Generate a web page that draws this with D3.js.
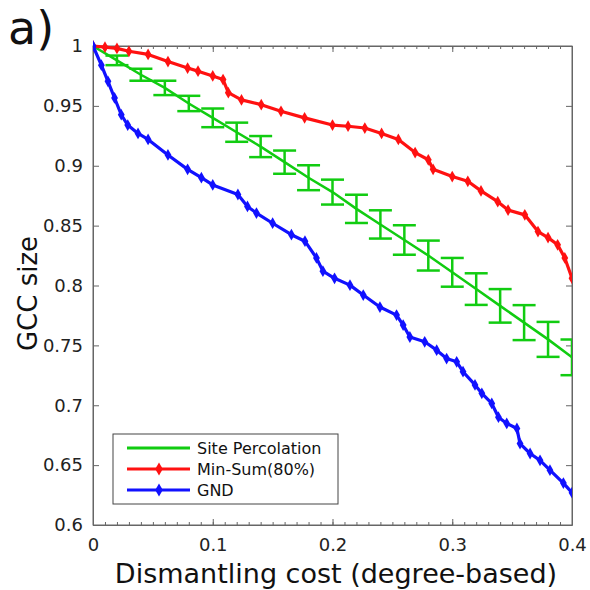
<!DOCTYPE html>
<html>
<head>
<meta charset="utf-8">
<script src="https://cdn.jsdelivr.net/npm/d3@7"></script>
<style>
  body { margin: 0; background: #fff; }
  svg { font-family: "DejaVu Sans", sans-serif; }
</style>
</head>
<body>
<svg width="590" height="590"></svg>
<script>
// Site percolation (mean + error bars)
const siteX = [0, 0.02, 0.04, 0.06, 0.08, 0.10, 0.12, 0.14, 0.16, 0.18, 0.20,
  0.22, 0.24, 0.26, 0.28, 0.30, 0.32, 0.34, 0.36, 0.38, 0.40];
const siteY = [1, 0.988, 0.976, 0.965, 0.952, 0.940, 0.928, 0.916, 0.903, 0.890, 0.878,
  0.864, 0.851, 0.838, 0.825, 0.811, 0.797, 0.783, 0.769, 0.755, 0.740];
const siteErr = [0, 0.004, 0.005, 0.006, 0.0064, 0.0078, 0.008, 0.0088, 0.0097, 0.0104, 0.0104,
  0.0118, 0.0118, 0.0123, 0.0125, 0.012, 0.0132, 0.014, 0.0146, 0.0146, 0.0149];

// Min-Sum(80%)
const minSumX = [0, 0.01, 0.02, 0.03, 0.046, 0.0626, 0.079, 0.0877, 0.1, 0.1086, 0.113, 0.124,
  0.1405, 0.157, 0.1767, 0.2, 0.213, 0.227, 0.241, 0.255, 0.269, 0.28, 0.284, 0.3, 0.313,
  0.324, 0.338, 0.3466, 0.3606, 0.3716, 0.38, 0.388, 0.394, 0.4];
const minSumY = [1, 0.999, 0.998, 0.9956, 0.993, 0.987, 0.9816, 0.979, 0.975, 0.972, 0.961, 0.955,
  0.951, 0.9455, 0.940, 0.934, 0.933, 0.9315, 0.927, 0.922, 0.911, 0.905, 0.897, 0.891, 0.887,
  0.879, 0.870, 0.863, 0.859, 0.845, 0.840, 0.834, 0.823, 0.806];

// GND
const gndX = [0, 0.007, 0.0125, 0.018, 0.0236, 0.029, 0.0376, 0.046, 0.0626, 0.079, 0.0905, 0.1,
  0.121, 0.129, 0.1365, 0.150, 0.1657, 0.177, 0.1866, 0.192, 0.2017, 0.2146, 0.2257, 0.2396,
  0.2535, 0.259, 0.2646, 0.277, 0.287, 0.2953, 0.3037, 0.309, 0.319, 0.3247, 0.333, 0.3386,
  0.3455, 0.354, 0.3566, 0.365, 0.3733, 0.3816, 0.3928, 0.4];
const gndY = [1, 0.984, 0.9705, 0.9566, 0.9426, 0.934, 0.927, 0.922, 0.909, 0.897, 0.890, 0.884,
  0.876, 0.866, 0.8605, 0.852, 0.8424, 0.837, 0.823, 0.812, 0.806, 0.8003, 0.792, 0.782,
  0.7753, 0.767, 0.757, 0.753, 0.746, 0.739, 0.7363, 0.728, 0.717, 0.710, 0.7015, 0.690,
  0.6848, 0.6806, 0.668, 0.6597, 0.654, 0.6458, 0.635, 0.627];

const xTicks = [0, 0.1, 0.2, 0.3, 0.4];
const yTicks = [0.6, 0.65, 0.7, 0.75, 0.8, 0.85, 0.9, 0.95, 1];
const legendNames = ["Site Percolation", "Min-Sum(80%)", "GND"];

const green = "#11cc11", red = "#ff1111", blue = "#1111ff";

const svg = d3.select("svg");
const pL = 93, pR = 572, pT = 46, pB = 525;

const x = d3.scaleLinear().domain([0, 0.4]).range([pL, pR]);
const y = d3.scaleLinear().domain([0.6, 1]).range([pB, pT]);

svg.append("clipPath").attr("id", "clip")
  .append("rect")
  .attr("x", pL).attr("y", pT - 8)
  .attr("width", pR - pL).attr("height", pB - pT + 8);

// axes
const minor = d3.range(0, 0.4001, 0.01);

svg.append("g")
  .attr("transform", `translate(0,${pB})`)
  .call(d3.axisBottom(x).tickValues(minor).tickSize(-3).tickFormat(""))
  .call(g => g.select(".domain").remove());
svg.append("g")
  .attr("transform", `translate(0,${pT})`)
  .call(d3.axisTop(x).tickValues(minor).tickSize(-3).tickFormat(""))
  .call(g => g.select(".domain").remove());

svg.append("g")
  .attr("transform", `translate(0,${pB})`)
  .call(d3.axisBottom(x).tickValues(xTicks).tickSize(-6).tickSizeOuter(0).tickPadding(13)
    .tickFormat(d => d === 0 ? "0" : d3.format(".1f")(d)));
svg.append("g")
  .attr("transform", `translate(0,${pT})`)
  .call(d3.axisTop(x).tickValues(xTicks).tickSize(-6).tickSizeOuter(0).tickFormat(""));

svg.append("g")
  .attr("transform", `translate(${pL},0)`)
  .call(d3.axisLeft(y).tickValues(yTicks).tickSize(-6).tickSizeOuter(0).tickPadding(10)
    .tickFormat(d => d === 1 ? "1" : String(+d.toFixed(2))));
svg.append("g")
  .attr("transform", `translate(${pR},0)`)
  .call(d3.axisRight(y).tickValues(yTicks).tickSize(-6).tickSizeOuter(0).tickFormat(""));

svg.selectAll(".tick line, .domain").attr("stroke", "#666");
svg.selectAll(".tick text").attr("font-size", 18).attr("fill", "#222")
  .attr("font-family", "DejaVu Sans");

svg.append("rect")
  .attr("x", pL).attr("y", pT)
  .attr("width", pR - pL).attr("height", pB - pT)
  .attr("fill", "none").attr("stroke", "#666");

// labels
svg.append("text").attr("x", 8).attr("y", 44)
  .attr("font-size", 46).attr("fill", "#111").text("a)");

svg.append("text")
  .attr("x", 336).attr("y", 583)
  .attr("text-anchor", "middle").attr("font-size", 27).attr("fill", "#111")
  .text("Dismantling cost (degree-based)");

svg.append("text")
  .attr("transform", `translate(37,${(pT + pB) / 2 + 8}) rotate(-90)`)
  .attr("text-anchor", "middle").attr("font-size", 26).attr("fill", "#111")
  .text("GCC size");

// series
const plot = svg.append("g").attr("clip-path", "url(#clip)");
const line = d3.line().x(d => x(d[0])).y(d => y(d[1]));
const diamond = d3.symbol().type(d3.symbolDiamond).size(40);

const site = siteX.map((v, i) => [v, siteY[i], siteErr[i]]);
plot.append("path").datum(site)
  .attr("fill", "none").attr("stroke", green).attr("stroke-width", 2.5)
  .attr("d", line);

const bars = plot.selectAll("g.bar").data(site.filter(d => d[2] > 0)).enter()
  .append("g").attr("class", "bar")
  .attr("stroke", green).attr("stroke-width", 2.5);
bars.append("line")
  .attr("x1", d => x(d[0])).attr("x2", d => x(d[0]))
  .attr("y1", d => y(d[1] + d[2])).attr("y2", d => y(d[1] - d[2]));
[1, -1].forEach(s => {
  bars.append("line")
    .attr("x1", d => x(d[0]) - 11.5).attr("x2", d => x(d[0]) + 11.5)
    .attr("y1", d => y(d[1] + s * d[2])).attr("y2", d => y(d[1] + s * d[2]));
});

function drawSeries(xs, ys, color) {
  const pts = xs.map((v, i) => [v, ys[i]]);
  plot.append("path").datum(pts)
    .attr("fill", "none").attr("stroke", color).attr("stroke-width", 3.2)
    .attr("stroke-linejoin", "round")
    .attr("d", line);
  plot.selectAll(null).data(pts).enter()
    .append("path")
    .attr("transform", d => `translate(${x(d[0])},${y(d[1])})`)
    .attr("d", diamond).attr("fill", color);
}
drawSeries(minSumX, minSumY, red);
drawSeries(gndX, gndY, blue);

// legend
const leg = svg.append("g");
leg.append("rect")
  .attr("x", 113).attr("y", 434).attr("width", 225).attr("height", 70)
  .attr("fill", "#fff").attr("stroke", "#444").attr("stroke-width", 1);
const legColors = [green, red, blue];
legendNames.forEach((name, i) => {
  const ly = 448 + i * 21;
  leg.append("line")
    .attr("x1", 127).attr("x2", 190).attr("y1", ly).attr("y2", ly)
    .attr("stroke", legColors[i]).attr("stroke-width", 3);
  if (i > 0) {
    leg.append("path").attr("transform", `translate(159,${ly})`)
      .attr("d", d3.symbol().type(d3.symbolDiamond).size(50)).attr("fill", legColors[i]);
  }
  leg.append("text").attr("x", 197).attr("y", ly + 6)
    .attr("font-size", 16).attr("fill", "#111").text(name);
});
</script>
</body>
</html>
